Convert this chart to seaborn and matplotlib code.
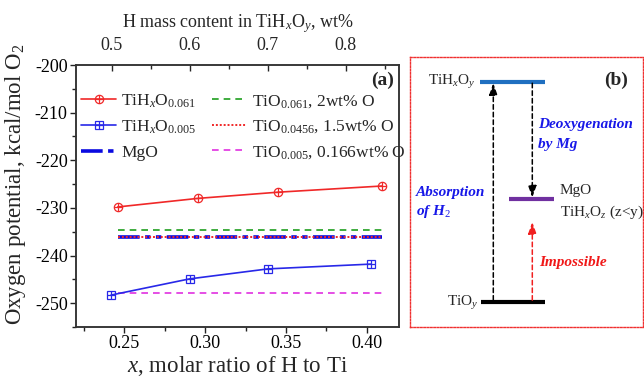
import numpy as np
import pandas as pd
import matplotlib
matplotlib.use("Agg")
import matplotlib.pyplot as plt
from matplotlib.lines import Line2D
from matplotlib.ticker import MultipleLocator
import seaborn as sns

# ---------------- data ----------------
x_red = [0.2458, 0.2955, 0.3451, 0.4096]
y_red = [-229.8, -228.0, -226.7, -225.4]
x_blue = [0.2417, 0.2903, 0.3389, 0.4024]
y_blue = [-248.3, -244.9, -242.8, -241.8]
hline_x = [0.2458, 0.4096]
y_tio_0061 = -234.7
y_tio_00456 = -236.2
y_mgo = -236.2
y_tio_0005 = -247.9

sns.set_style("ticks")
plt.rcParams['font.family'] = ['Liberation Serif', 'DejaVu Serif']
plt.rcParams['mathtext.fontset'] = 'custom'
plt.rcParams['mathtext.rm'] = 'Liberation Serif'
plt.rcParams['mathtext.it'] = 'Liberation Serif:italic'
plt.rcParams['mathtext.bf'] = 'Liberation Serif:bold'
plt.rcParams['axes.unicode_minus'] = False

FS = 13
FSL = 16.5
fig = plt.figure(figsize=(6.44, 3.77), dpi=100)
ax = fig.add_axes([76/644, 1-327/377, (399-76)/644, (327-65)/377])

red = '#F02828'
blue = '#2828E8'
green = '#1E9E1E'
magenta = '#E030E0'
mgo_c = '#0A0AE0'

df_red = pd.DataFrame({'x': x_red, 'y': y_red})
df_blue = pd.DataFrame({'x': x_blue, 'y': y_blue})
sns.lineplot(data=df_red, x='x', y='y', ax=ax, color=red, lw=1.2,
             marker='o', markersize=6, markerfacecolor='none',
             markeredgecolor=red, markeredgewidth=0.9, zorder=5)
sns.scatterplot(data=df_red, x='x', y='y', ax=ax, color=red, marker='+',
                s=30, linewidth=0.9, zorder=6)
sns.lineplot(data=df_blue, x='x', y='y', ax=ax, color=blue, lw=1.2,
             marker='s', markersize=5.5, markerfacecolor='none',
             markeredgecolor=blue, markeredgewidth=0.9, zorder=5)
sns.scatterplot(data=df_blue, x='x', y='y', ax=ax, color=blue, marker='+',
                s=28, linewidth=0.9, zorder=6)

def hl(y, **kw):
    sns.lineplot(x=hline_x, y=[y, y], ax=ax, **kw)

hl(y_tio_0061, color=green, lw=1.2, dashes=(4, 3))
hl(y_mgo, color=mgo_c, lw=2.6, dashes=(6, 1.5, 1.5, 1.5, 1.5, 1.5))
hl(y_tio_00456, color=red, lw=1.4, dashes=(1, 1))
hl(y_tio_0005, color=magenta, lw=1.2, dashes=(4, 3))

ax.set_xlim(0.22, 0.42)
ax.set_ylim(-255, -200)
ax.xaxis.set_minor_locator(MultipleLocator(0.025))
ax.yaxis.set_minor_locator(MultipleLocator(5))
ax.set_xticks([0.25, 0.30, 0.35, 0.40])
ax.set_xticklabels(['0.25', '0.30', '0.35', '0.40'])
ax.set_yticks([-200, -210, -220, -230, -240, -250])
ax.set_yticklabels(['-200', '-210', '-220', '-230', '-240', '-250'])
ax.tick_params(axis='both', which='major', direction='out', length=4, width=1,
               labelsize=FS, colors='#222222', labelcolor='black', pad=2)
ax.tick_params(axis='both', which='minor', direction='out', length=3, width=1,
               colors='#222222')
for s in ax.spines.values():
    s.set_linewidth(1.1)
    s.set_color('#333333')
    s.set_visible(True)
ax.set_xlabel(r'$x$, molar ratio of H to Ti', fontsize=FSL, labelpad=1)
ax.set_ylabel(r'Oxygen potential, kcal/mol O$_2$', fontsize=FSL, labelpad=1)
ax.yaxis.set_label_coords(-0.15, 0.545)

ax2 = ax.twiny()
ax2.set_xlim(0.4542, 0.868)
ax2.set_xticks([0.5, 0.6, 0.7, 0.8])
ax2.set_xticklabels(['0.5', '0.6', '0.7', '0.8'])
ax2.xaxis.set_minor_locator(MultipleLocator(0.05))
ax2.tick_params(axis='x', which='major', direction='in', length=4, width=1,
                labelsize=FS, pad=8)
ax2.tick_params(axis='x', which='minor', direction='in', length=3, width=1)
ax2.set_xlabel(r'H mass content in TiH$_x$O$_y$, wt%', fontsize=FS, labelpad=7)
for s in ax2.spines.values():
    s.set_linewidth(1.1)
    s.set_color('#333333')

ax.text(0.985, 0.94, '(a)', transform=ax.transAxes, ha='right', va='center',
        fontsize=FS + 1, fontweight='bold')

h_red = (Line2D([], [], color=red, lw=1.2, marker='o', markersize=6,
                markerfacecolor='none', markeredgewidth=0.9),
         Line2D([], [], color=red, lw=0, marker='+', markersize=5.5,
                markeredgewidth=0.9))
h_blue = (Line2D([], [], color=blue, lw=1.2, marker='s', markersize=5.5,
                 markerfacecolor='none', markeredgewidth=0.9),
          Line2D([], [], color=blue, lw=0, marker='+', markersize=5.5,
                 markeredgewidth=0.9))
handles = [
    h_red, h_blue,
    Line2D([], [], color=mgo_c, lw=2.6, dashes=(6, 1.5, 1.5, 1.5, 1.5, 1.5)),
    Line2D([], [], color=green, lw=1.2, dashes=(4, 3)),
    Line2D([], [], color=red, lw=1.4, dashes=(1, 1)),
    Line2D([], [], color=magenta, lw=1.2, dashes=(4, 3)),
]
labels = [r'TiH$_x$O$_{0.061}$', r'TiH$_x$O$_{0.005}$', 'MgO',
          r'TiO$_{0.061}$, 2wt% O', r'TiO$_{0.0456}$, 1.5wt% O',
          r'TiO$_{0.005}$, 0.166wt% O']
ax.legend(handles, labels, ncol=2, loc='upper left',
          bbox_to_anchor=(0.0, 0.915), frameon=False, fontsize=FS - 0.5,
          handlelength=2.0, handletextpad=0.3, columnspacing=0.9,
          labelspacing=0.5, borderaxespad=0.2, borderpad=0.1)

# ---------------- panel (b) ----------------
bx = fig.add_axes([410/644, 1-327/377, (643-410)/644, (327-57)/377])
bx.set_xlim(410, 643)
bx.set_ylim(327, 57)
bx.set_xticks([])
bx.set_yticks([])
for s in bx.spines.values():
    s.set_color('#F03030')
    s.set_linestyle((0, (1.2, 1.2)))
    s.set_linewidth(1.0)

FSB = 11
lvl_blue = 81.7
lvl_purple = 199
lvl_black = 301.7
bx.plot([480, 545], [lvl_blue, lvl_blue], color='#1F6FC0', lw=3, solid_capstyle='butt')
bx.plot([509, 554], [lvl_purple, lvl_purple], color='#7030A0', lw=3, solid_capstyle='butt')
bx.plot([481, 545], [lvl_black, lvl_black], color='black', lw=3, solid_capstyle='butt')

def arrow(x, y0, y1, c):
    bx.annotate('', xy=(x, y1), xytext=(x, y0),
                arrowprops=dict(arrowstyle='-|>,head_length=0.7,head_width=0.25',
                                color=c, lw=1.1, linestyle=(0, (3, 2)),
                                shrinkA=0, shrinkB=0))

arrow(493.3, lvl_black - 1.5, lvl_blue + 1.5, 'black')
arrow(532.3, lvl_blue + 1.5, lvl_purple - 1.5, 'black')
arrow(532.3, lvl_black - 1.5, 222, '#F02020')

bx.text(476, lvl_blue, r'TiH$_x$O$_y$', ha='right', va='center', fontsize=FSB)
bx.text(478, lvl_black + 1, r'TiO$_y$', ha='right', va='center', fontsize=FSB)
bx.text(628, 80, '(b)', ha='right', va='center', fontsize=FS + 1, fontweight='bold')
bx.text(538, 135, 'Deoxygenation\nby Mg', ha='left', va='center', color='#1818E8',
        fontsize=FSB, fontweight='bold', fontstyle='italic', linespacing=1.7)
bx.text(416, 203, 'Absorption\nof H$_2$', ha='left', va='center', color='#1818E8',
        fontsize=FSB, fontweight='bold', fontstyle='italic', linespacing=1.4)
bx.text(560, 191, 'MgO', ha='left', va='center', fontsize=FSB)
bx.text(560, 212, r'TiH$_x$O$_z$ (z<y)', ha='left', va='center', fontsize=FSB)
bx.text(539, 263, 'Impossible', ha='left', va='center', color='#F01818',
        fontsize=FSB, fontweight='bold', fontstyle='italic')

fig.savefig('out.png', dpi=100)
